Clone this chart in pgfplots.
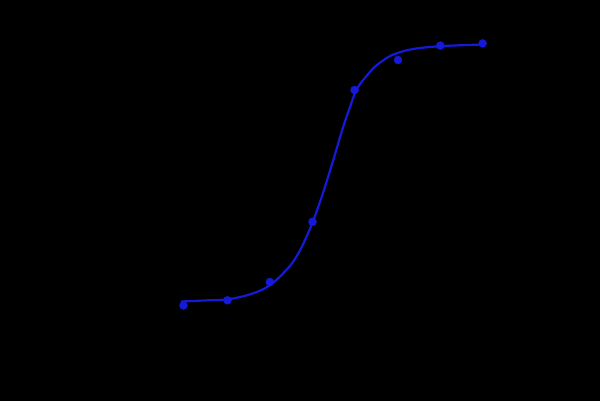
\documentclass[border=0pt]{standalone}
\usepackage{pgfplots}
\pgfplotsset{compat=1.18}
\definecolor{curveblue}{RGB}{20,26,215}
\begin{document}
\begin{tikzpicture}
\begin{axis}[
  scale only axis, width=600bp, height=401bp,
  xmin=0, xmax=600, ymin=0, ymax=401, y dir=reverse,
  axis line style={draw=none}, ticks=none,
  axis background/.style={fill=black},
]
\addplot[curveblue, line width=2.2bp, smooth, tension=0.5] coordinates {
 (181,301.5) (208,300.3) (228,299.3) (248,295) (265,288.3) (278,278.5)
 (292,263.3) (302,246.5) (312.5,222.5) (322,196) (333,161) (343,127.5)
 (350,107) (355,93) (360,84) (367,75.5) (374,67.5) (383,60.5) (392,55)
 (406,50.5) (420,48) (440,46.2) (462,45.2) (483,44.5)
};
\addplot[only marks, mark=*, mark size=4bp, curveblue] coordinates {
 (183.5,305.5) (227.5,300.3) (269.8,282) (312.5,221.8) (354.5,90) (398,60) (440.3,45.6) (482.6,43.4)
};
\end{axis}
\end{tikzpicture}
\end{document}
